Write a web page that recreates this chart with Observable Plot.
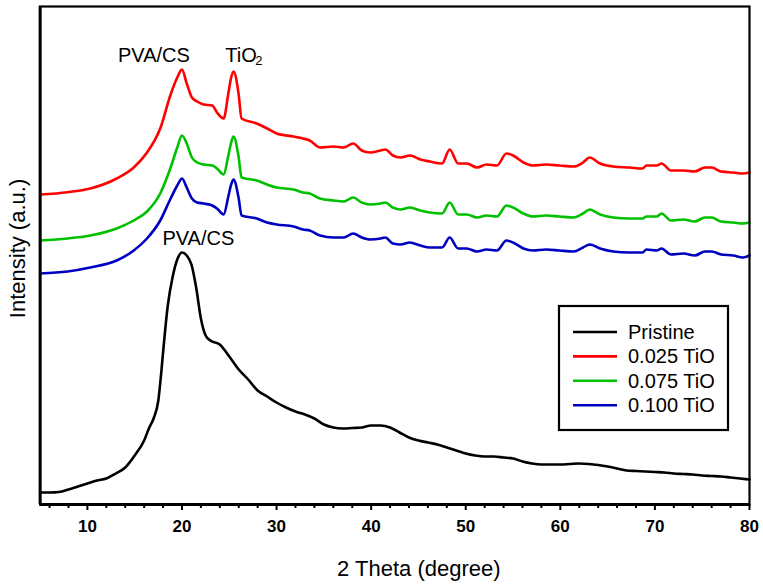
<!DOCTYPE html>
<html>
<head>
<meta charset="utf-8">
<script src="https://cdn.jsdelivr.net/npm/d3@7"></script>
<script src="https://cdn.jsdelivr.net/npm/@observablehq/plot@0.6"></script>
<style>
  html, body { margin: 0; padding: 0; background: #fff; }
  #wrap { position: relative; width: 763px; height: 585px; font-family: "Liberation Sans", Arial, sans-serif; }
  #legend { position: absolute; left: 558px; top: 305px; }
</style>
</head>
<body>
<div id="wrap"><div id="chart"></div><div id="legend"></div></div>
<script>
// ---- data (2θ in degrees, intensity in arbitrary units) ----
const seriesNames = ["Pristine", "0.025 TiO", "0.075 TiO", "0.100 TiO"];
const seriesColors = ["#000000", "#ff0000", "#00c000", "#0000c0"];

const pristineTheta = [5,6,7,8,9,10,11,12,13,14,15,16,16.5,17,17.5,17.8,18,18.5,19,19.5,20,20.5,21,21.5,22,22.5,23,24,25,26,27,28,29,30,31,32,33,34,35,36,37,38,39,40,41,42,43,44,45,46,47,48,49,50,51,52,53,54,55,56,57,58,59,60,61,62,63,64,65,66,67,68,69,70,71,72,73,74,75,76,77,78,79,80];
const pristineI = [12,12,12.5,15,18,21,24,26,31,37,49,64,76,86,104,131,152,199,227,245,252,249,240,217,186,169,164,160,148,135,125,114,108,102,97,93,90,86,80,77,76,76.5,77,79,79,77,72,67,64,62,60,57,54,51,49,48,48,47,46,43,41,40,40,40,40.5,41,40.5,39.5,38,36,34,33.5,33,32.5,32,31,30.5,30,29,28.5,28,27,26,25];

const dopedTheta = [5,7.9,10.3,13.1,14.9,16.3,17.7,18.8,19.5,20.0,20.5,21.05,21.6,22.3,23.2,23.7,24.4,24.9,25.2,25.45,25.98,26.3,27.9,29.0,30.0,31.8,32.8,33.5,34.6,36.0,37.1,38.1,39.0,39.9,41.0,41.5,42.3,43.1,44.1,45.2,46.2,47.5,48.3,49.2,50.1,51.2,52.2,53.3,54.3,55.0,56.1,57.1,58.5,59.9,61.4,62.4,63.1,64.2,65.6,67.3,68.7,69.1,70.2,70.7,71.7,73.0,74.2,75.3,76.0,77.0,78.3,79.3,80];
const tio025I = [310,312.3,316,326,337,352,376,410,427,435,421,407,403,400,399,392,386,411,427,433,411,386,381,376,371,368,366,364,357,358,357,361,354,352,354,355,349,347,349,345,343,341,355,341,341,337,340,339,351,349,342,339,340,339,338,342,347,341,338,337,336,339,339,341,334,334,333,337,337,333,332,331,332];
const tio075I = [264,266,269,276,284,293,311,337,357,369,361,347,342,340,339,336,330,349,362,368,348,327,324,320,317,315,312,311,306,304,303,307,302,300,301,302,297,295,297,294,292,291,302,290,290,287,289,288,299,297,291,288,289,288,287,291,295,290,287,286,286,288,288,291,284,285,283,287,287,283,282,281,282];
const tio100I = [231,233,237,244,254,266,284,306,319,326,317,306,302,301,299,296,290,308,320,325,307,289,286,282,280,278,275,274,269,267,267,271,267,265,266,267,261,260,262,259,257,257,267,256,256,253,255,254,264,262,256,254,255,254,253,257,260,256,253,252,252,255,254,256,250,251,249,253,253,250,249,247,249];

const majorTicks = [10,20,30,40,50,60,70,80];
const minorTicks = [6,8,12,14,16,18,22,24,26,28,32,34,36,38,42,44,46,48,52,54,56,58,62,64,66,68,72,74,76,78];

// peak annotations
const labelTexts = ["PVA/CS", "TiO", "PVA/CS"];
const labelTheta = [17.03, 24.58, 21.73];
const labelI = [448.5, 449, 265.5];
const labelAnchors = ["middle", "start", "middle"];
const subText = ["2"];
const subTheta = [27.75];
const subI = [443.5];

const xTitle = "2 Theta (degree)";
const yTitle = "Intensity (a.u.)";

// ---- build tables ----
const rows = [];
pristineTheta.forEach((t, i) => rows.push({series: seriesNames[0], theta: t, I: pristineI[i]}));
[tio025I, tio075I, tio100I].forEach((arr, k) => {
  dopedTheta.forEach((t, i) => rows.push({series: seriesNames[k + 1], theta: t, I: arr[i]}));
});
const labels = labelTexts.map((s, i) => ({s, theta: labelTheta[i], I: labelI[i], anchor: labelAnchors[i]}));
const subs = subText.map((s, i) => ({s, theta: subTheta[i], I: subI[i]}));

const font = "Liberation Sans, Arial, sans-serif";

const chart = Plot.plot({
  width: 763,
  height: 585,
  marginLeft: 39.6,
  marginRight: 14,
  marginTop: 6,
  marginBottom: 81,
  style: {fontFamily: font, background: "#fff", overflow: "visible"},
  x: {domain: [5, 80]},
  y: {domain: [0, 498], axis: null},
  color: {domain: seriesNames, range: seriesColors},
  marks: [
    Plot.line(rows, {x: "theta", y: "I", z: "series", stroke: "series", strokeWidth: 2.6, curve: "monotone-x"}),
    Plot.frame({stroke: "#000", strokeWidth: 2.2}),
    Plot.ruleX([5], {stroke: "#000", strokeWidth: 3}),
    Plot.ruleY([0], {stroke: "#000", strokeWidth: 3}),
    Plot.axisX({ticks: minorTicks, tickSize: 4, tickPadding: 0, text: null, strokeWidth: 2, label: null}),
    Plot.axisX({ticks: majorTicks, tickSize: 6, tickPadding: 9, strokeWidth: 2, fontSize: 17, fontWeight: "bold", fill: "#000", label: null, tickFormat: d => String(d)}),
    Plot.text(labels.filter(d => d.anchor === "middle"), {x: "theta", y: "I", text: "s", fontSize: 20, textAnchor: "middle", lineAnchor: "middle", fill: "#000"}),
    Plot.text(labels.filter(d => d.anchor === "start"), {x: "theta", y: "I", text: "s", fontSize: 20, textAnchor: "start", lineAnchor: "middle", fill: "#000"}),
    Plot.text(subs, {x: "theta", y: "I", text: "s", fontSize: 13, textAnchor: "start", lineAnchor: "middle", fill: "#000"}),
    Plot.text([xTitle], {frameAnchor: "bottom", dx: 24, dy: 64, fontSize: 22, textAnchor: "middle", lineAnchor: "middle", fill: "#000"}),
    Plot.text([yTitle], {frameAnchor: "left", rotate: -90, dx: -22, dy: -7, fontSize: 22, textAnchor: "middle", lineAnchor: "middle", fill: "#000"})
  ]
});
document.getElementById("chart").appendChild(chart);

// ---- legend ----
const lw = 171, lh = 126;
const lsvg = d3.select("#legend").append("svg")
  .attr("width", lw).attr("height", lh)
  .style("font-family", font).style("overflow", "visible");
lsvg.append("rect").attr("x", 1).attr("y", 1).attr("width", lw - 2).attr("height", lh - 2)
  .attr("fill", "#fff").attr("stroke", "#000").attr("stroke-width", 2.2);
seriesNames.forEach((name, i) => {
  const cy = 27 + i * 24.4;
  lsvg.append("line").attr("x1", 15).attr("x2", 59).attr("y1", cy).attr("y2", cy)
    .attr("stroke", seriesColors[i]).attr("stroke-width", 2.6);
  lsvg.append("text").attr("x", 70).attr("y", cy).attr("dy", "0.35em")
    .attr("font-size", 20).attr("fill", "#000").text(name);
});
</script>
</body>
</html>
